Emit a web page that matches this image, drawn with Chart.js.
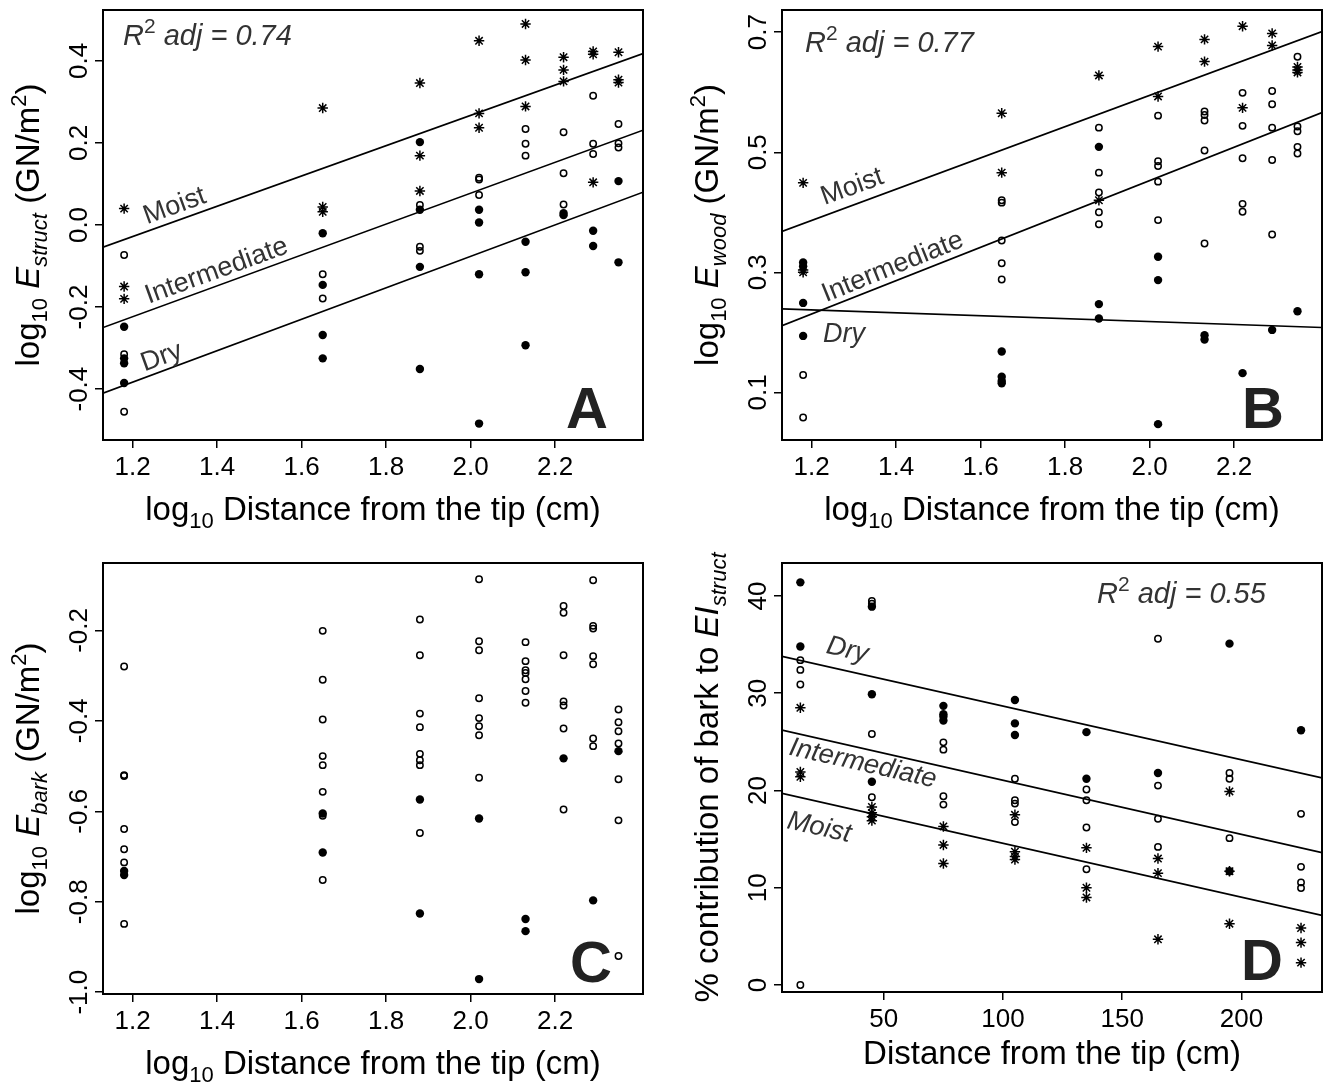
<!DOCTYPE html>
<html>
<head>
<meta charset="utf-8">
<script src="https://cdn.jsdelivr.net/npm/chart.js@4.4.1/dist/chart.umd.min.js"></script>
<style>
  html, body { margin: 0; padding: 0; background: #fff; }
  #page { position: relative; width: 1331px; height: 1088px; overflow: hidden; }
  #page canvas { position: absolute; }
</style>
</head>
<body>
<div id="page">
  <canvas id="panelA" width="665" height="544" style="left:0;top:0"></canvas>
  <canvas id="panelB" width="666" height="544" style="left:665px;top:0"></canvas>
  <canvas id="panelC" width="665" height="544" style="left:0;top:544px"></canvas>
  <canvas id="panelD" width="666" height="544" style="left:665px;top:544px"></canvas>
</div>
<script>
// sampling points along the branch
const logDistance = [1.18, 1.65, 1.88, 2.02, 2.13, 2.22, 2.29, 2.35];
const distanceCm = [15, 45, 75, 105, 135, 165, 195, 225];

// A: log10 E_struct, one list per sampling point
const structMoist = [[0.04, -0.15, -0.18], [0.285, 0.044, 0.032], [0.346, 0.169, 0.083], [0.449, 0.272, 0.237], [0.49, 0.402, 0.289], [0.409, 0.378, 0.35], [0.423, 0.416, 0.104], [0.421, 0.354, 0.347]];
const structInter = [[-0.073, -0.315, -0.455], [-0.12, -0.179], [0.049, -0.053, -0.063], [0.115, 0.111, 0.073], [0.234, 0.198, 0.169], [0.226, 0.126, 0.05], [0.315, 0.198, 0.173], [0.246, 0.199, 0.189]];
const structDry = [[-0.248, -0.325, -0.337, -0.385], [-0.02, -0.146, -0.268, -0.325], [0.202, 0.037, -0.102, -0.351], [0.037, 0.006, -0.12, -0.484], [-0.041, -0.115, -0.293], [0.029, 0.024], [-0.014, -0.051], [0.107, -0.091]];

// B: log10 E_wood
const woodMoist = [[0.449, 0.304, 0.300], [0.565, 0.466], [0.628, 0.42], [0.676, 0.593], [0.688, 0.651], [0.71, 0.574], [0.698, 0.678], [0.642, 0.637, 0.633]];
const woodInter = [[0.129, 0.058], [0.42, 0.416, 0.353, 0.315, 0.288], [0.541, 0.466, 0.433, 0.4, 0.38], [0.561, 0.485, 0.477, 0.451, 0.387], [0.568, 0.562, 0.553, 0.503, 0.348], [0.599, 0.544, 0.49, 0.414, 0.401], [0.602, 0.58, 0.541, 0.487, 0.363], [0.659, 0.543, 0.535, 0.509, 0.498]];
const woodDry = [[0.3165, 0.31, 0.249, 0.194], [0.168, 0.126, 0.119, 0.115], [0.509, 0.247, 0.223], [0.326, 0.287, 0.047], [0.195, 0.188], [0.132], [0.204], [0.235]];

// C: log10 E_bark
const barkInter = [[-0.28, -0.52, -0.522, -0.639, -0.684, -0.713, -0.849], [-0.201, -0.309, -0.397, -0.478, -0.498, -0.557, -0.61, -0.752], [-0.176, -0.255, -0.384, -0.414, -0.473, -0.487, -0.498, -0.648], [-0.087, -0.224, -0.244, -0.35, -0.394, -0.412, -0.432, -0.526], [-0.226, -0.268, -0.288, -0.294, -0.308, -0.334, -0.36], [-0.146, -0.161, -0.255, -0.357, -0.366, -0.417, -0.596], [-0.089, -0.19, -0.196, -0.257, -0.275, -0.439, -0.456], [-0.375, -0.403, -0.423, -0.45, -0.529, -0.62, -0.92]];
const barkDry = [[-0.732, -0.741], [-0.605, -0.691], [-0.574, -0.826], [-0.616, -0.971], [-0.838, -0.865], [-0.483], [-0.797], [-0.467]];

// D: % contribution of bark to EI_struct
const shareDry = [[41.4, 34.8], [38.9, 29.9, 20.9], [28.7, 27.85, 27.6, 27.2], [29.3, 26.9, 25.7], [26.0, 21.2], [21.8], [35.1, 11.7], [26.2]];
const shareInter = [[33.4, 32.4, 30.9, 0], [39.5, 39.2, 25.8, 19.3], [24.95, 24.2, 19.4, 18.55], [21.2, 19.0, 18.65, 16.75], [20.1, 19.0, 16.2, 11.9], [35.6, 20.5, 17.1, 14.2], [21.8, 21.2, 15.1], [17.6, 12.15, 10.55, 9.97]];
const shareMoist = [[28.5, 21.9, 21.4], [18.3, 17.7, 17.3, 16.9], [16.3, 14.4, 12.5], [17.5, 13.7, 13.2, 12.9], [14.1, 10.0, 9.0], [13.0, 11.5, 4.7], [19.9, 11.7, 6.3], [5.86, 4.36, 2.3]];

// fitted lines: y at the two ends of the x range
const logFitX = [1.13, 2.408];
const structFitMoist = [-0.054, 0.418];
const structFitInter = [-0.25, 0.231];
const structFitDry = [-0.41, 0.08];
const woodFitMoist = [0.368, 0.701];
const woodFitInter = [0.211, 0.566];
const woodFitDry = [0.239, 0.208];
const cmFitX = [7.3, 233.8];
const shareFitDry = [33.8, 21.3];
const shareFitInter = [26.2, 13.6];
const shareFitMoist = [19.7, 7.15];

// tick values
const logTicks = [1.2, 1.4, 1.6, 1.8, 2.0, 2.2];
const cmTicks = [50, 100, 150, 200];
const structTicks = [-0.4, -0.2, 0.0, 0.2, 0.4];
const woodTicks = [0.1, 0.3, 0.5, 0.7];
const barkTicks = [-1.0, -0.8, -0.6, -0.4, -0.2];
const shareTicks = [0, 10, 20, 30, 40];

const FONT = '"Liberation Sans", Arial, Helvetica, sans-serif';
const TICK_PX = 26, TITLE_PX = 33, SUB_PX = 22, LABEL_PX = 27, R2_PX = 29, LETTER_PX = 58;
const INK = '#000', NOTE_INK = '#333';

const toPoints = (xs, cols) => cols.flatMap((ys, i) => ys.map(y => ({ x: xs[i], y })));
const toLine = (xs, ys) => xs.map((x, i) => ({ x, y: ys[i] }));

const moistStyle = { pointStyle: 'star', pointRadius: 5.2, borderColor: INK, borderWidth: 1.5, backgroundColor: 'rgba(0,0,0,0)' };
const interStyle = { pointStyle: 'circle', pointRadius: 3.2, borderColor: INK, borderWidth: 1.5, backgroundColor: 'rgba(0,0,0,0)' };
const dryStyle = { pointStyle: 'circle', pointRadius: 4.2, borderColor: INK, borderWidth: 0, backgroundColor: INK };
const lineStyle = { showLine: true, pointRadius: 0, borderColor: INK, borderWidth: 1.7, backgroundColor: INK };

const t = (text, extra) => Object.assign({ t: text }, extra || {});
const sub = (text, italic) => t(text, { size: SUB_PX, dy: 8, italic: !!italic });
const sup = text => t(text, { size: SUB_PX, dy: -13 });
const logTitle = [t('log'), sub('10'), t(' Distance from the tip (cm)')];

// per-panel text and layout, looked up by canvas id
const decor = {
  panelA: {
    yDigits: 1, xTitle: logTitle, xTitleDy: 80,
    yTitle: [t('log'), sub('10'), t(' '), t('E', { italic: true }), sub('struct', true), t(' (GN/m'), sup('2'), t(')')],
    r2: { text: 'R', value: ' adj = 0.74', dx: 20, dy: 35, fromRight: false },
    letter: 'A', letterDx: 56,
    notes: [
      { text: 'Moist', x: 1.298, y: 0.051, angle: -20 },
      { text: 'Intermediate', x: 1.397, y: -0.107, angle: -20 },
      { text: 'Dry', x: 1.267, y: -0.317, angle: -20 }
    ]
  },
  panelB: {
    yDigits: 1, xTitle: logTitle, xTitleDy: 80,
    yTitle: [t('log'), sub('10'), t(' '), t('E', { italic: true }), sub('wood', true), t(' (GN/m'), sup('2'), t(')')],
    r2: { text: 'R', value: ' adj = 0.77', dx: 23, dy: 42, fromRight: false },
    letter: 'B', letterDx: 59,
    notes: [
      { text: 'Moist', x: 1.2945, y: 0.4456, angle: -20 },
      { text: 'Intermediate', x: 1.39, y: 0.312, angle: -22 },
      { text: 'Dry', x: 1.2767, y: 0.2, angle: 0, italic: true }
    ]
  },
  panelC: {
    yDigits: 1, xTitle: logTitle, xTitleDy: 80,
    yTitle: [t('log'), sub('10'), t(' '), t('E', { italic: true }), sub('bark', true), t(' (GN/m'), sup('2'), t(')')],
    letter: 'C', letterDx: 52,
    notes: []
  },
  panelD: {
    yDigits: 0, xTitle: [t('Distance from the tip (cm)')], xTitleDy: 72,
    yTitle: [t('% contribution of bark to '), t('EI', { italic: true }), sub('struct', true)],
    r2: { text: 'R', value: ' adj = 0.55', dx: 225, dy: 40, fromRight: true },
    letter: 'D', letterDx: 60,
    notes: [
      { text: 'Dry', x: 34.9, y: 34.65, angle: 12.7, italic: true },
      { text: 'Intermediate', x: 41.4, y: 22.98, angle: 12.7, italic: true },
      { text: 'Moist', x: 23.1, y: 16.4, angle: 12.7, italic: true }
    ]
  }
};

function fontOf(seg, base) {
  return (seg.italic ? 'italic ' : '') + (seg.bold ? 'bold ' : '') + (seg.size || base) + 'px ' + FONT;
}

// draws a run of text pieces (sub/superscripts, italics) on one baseline
function drawRich(ctx, segs, x, y, angle, align, base, color) {
  ctx.save();
  ctx.translate(x, y);
  ctx.rotate(angle);
  let total = 0;
  const widths = segs.map(s => { ctx.font = fontOf(s, base); const w = ctx.measureText(s.t).width; total += w; return w; });
  let cx = align === 'center' ? -total / 2 : 0;
  ctx.textAlign = 'left';
  ctx.textBaseline = 'alphabetic';
  ctx.fillStyle = color;
  segs.forEach((s, i) => {
    ctx.font = fontOf(s, base);
    ctx.fillText(s.t, cx, s.dy || 0);
    cx += widths[i];
  });
  ctx.restore();
}

const panelDecor = {
  id: 'panelDecor',
  afterDraw(chart) {
    const d = decor[chart.canvas.id];
    const { ctx, chartArea: a, scales } = chart;
    ctx.save();
    ctx.strokeStyle = INK;
    ctx.lineWidth = 2;
    ctx.strokeRect(a.left, a.top, a.right - a.left, a.bottom - a.top);

    // y tick labels, parallel to the axis
    ctx.font = TICK_PX + 'px ' + FONT;
    ctx.fillStyle = INK;
    ctx.textAlign = 'center';
    ctx.textBaseline = 'alphabetic';
    scales.y.ticks.forEach(tk => {
      const py = scales.y.getPixelForValue(tk.value);
      ctx.save();
      ctx.translate(a.left - 16, py);
      ctx.rotate(-Math.PI / 2);
      ctx.fillText(tk.value.toFixed(d.yDigits), 0, 0);
      ctx.restore();
    });

    const midX = (a.left + a.right) / 2, midY = (a.top + a.bottom) / 2;
    drawRich(ctx, d.xTitle, midX, a.bottom + d.xTitleDy, 0, 'center', TITLE_PX, INK);
    drawRich(ctx, d.yTitle, a.left - 64, midY, -Math.PI / 2, 'center', TITLE_PX, INK);

    if (d.r2) {
      const rx = d.r2.fromRight ? a.right - d.r2.dx : a.left + d.r2.dx;
      drawRich(ctx, [t(d.r2.text, { italic: true }), t('2', { size: 21, dy: -12 }), t(d.r2.value, { italic: true })],
        rx, a.top + d.r2.dy, 0, 'left', R2_PX, NOTE_INK);
    }

    // group labels sit along their fitted lines, centred on the given point
    d.notes.forEach(n => {
      const px = scales.x.getPixelForValue(n.x), py = scales.y.getPixelForValue(n.y);
      const ang = n.angle * Math.PI / 180;
      const lift = LABEL_PX * 0.36;
      drawRich(ctx, [t(n.text, { italic: !!n.italic })], px - Math.sin(ang) * lift, py + Math.cos(ang) * lift, ang, 'center', LABEL_PX, NOTE_INK);
    });

    ctx.font = 'bold ' + LETTER_PX + 'px ' + FONT;
    ctx.fillStyle = '#222';
    ctx.textAlign = 'center';
    ctx.textBaseline = 'alphabetic';
    ctx.fillText(d.letter, a.right - d.letterDx, a.bottom - 12);
    ctx.restore();
  }
};

function makePanel(id, cfg) {
  const datasets = cfg.series.map(s => Object.assign({ data: s.data }, s.style));
  return new Chart(document.getElementById(id), {
    type: 'scatter',
    data: { datasets },
    options: {
      responsive: false,
      animation: false,
      events: [],
      layout: { padding: { top: cfg.padTop, right: cfg.padRight, left: 0, bottom: 0 } },
      plugins: { legend: { display: false }, tooltip: { enabled: false } },
      scales: {
        x: {
          type: 'linear', min: cfg.xMin, max: cfg.xMax,
          afterBuildTicks: s => { s.ticks = cfg.xTicks.map(v => ({ value: v })); },
          afterFit: s => { s.height = cfg.axisBottom; },
          ticks: {
            color: INK, padding: 4, font: { family: FONT, size: TICK_PX },
            callback: v => v.toFixed(cfg.xDigits), maxRotation: 0, minRotation: 0
          },
          grid: { drawOnChartArea: false, drawTicks: true, tickLength: 8, color: INK, lineWidth: 1.5 },
          border: { display: false }
        },
        y: {
          type: 'linear', min: cfg.yMin, max: cfg.yMax,
          afterBuildTicks: s => { s.ticks = cfg.yTicks.map(v => ({ value: v })); },
          afterFit: s => { s.width = cfg.axisLeft; },
          ticks: { display: false },
          grid: { drawOnChartArea: false, drawTicks: true, tickLength: 8, color: INK, lineWidth: 1.5 },
          border: { display: false }
        }
      }
    },
    plugins: [panelDecor]
  });
}

makePanel('panelA', {
  padTop: 10, padRight: 22, axisLeft: 103, axisBottom: 104,
  xMin: 1.13, xMax: 2.408, yMin: -0.524, yMax: 0.524, xTicks: logTicks, yTicks: structTicks, xDigits: 1,
  series: [
    { data: toLine(logFitX, structFitMoist), style: lineStyle },
    { data: toLine(logFitX, structFitInter), style: lineStyle },
    { data: toLine(logFitX, structFitDry), style: lineStyle },
    { data: toPoints(logDistance, structInter), style: interStyle },
    { data: toPoints(logDistance, structDry), style: dryStyle },
    { data: toPoints(logDistance, structMoist), style: moistStyle }
  ]
});

makePanel('panelB', {
  padTop: 10, padRight: 9, axisLeft: 117, axisBottom: 104,
  xMin: 1.13, xMax: 2.408, yMin: 0.0206, yMax: 0.737, xTicks: logTicks, yTicks: woodTicks, xDigits: 1,
  series: [
    { data: toLine(logFitX, woodFitMoist), style: lineStyle },
    { data: toLine(logFitX, woodFitInter), style: lineStyle },
    { data: toLine(logFitX, woodFitDry), style: lineStyle },
    { data: toPoints(logDistance, woodInter), style: interStyle },
    { data: toPoints(logDistance, woodDry), style: dryStyle },
    { data: toPoints(logDistance, woodMoist), style: moistStyle }
  ]
});

makePanel('panelC', {
  padTop: 19, padRight: 22, axisLeft: 103, axisBottom: 94,
  xMin: 1.13, xMax: 2.408, yMin: -1.004, yMax: -0.051, xTicks: logTicks, yTicks: barkTicks, xDigits: 1,
  series: [
    { data: toPoints(logDistance, barkInter), style: interStyle },
    { data: toPoints(logDistance, barkDry), style: dryStyle }
  ]
});

makePanel('panelD', {
  padTop: 19, padRight: 9, axisLeft: 117, axisBottom: 96,
  xMin: 7.3, xMax: 233.8, yMin: -0.72, yMax: 43.39, xTicks: cmTicks, yTicks: shareTicks, xDigits: 0,
  series: [
    { data: toLine(cmFitX, shareFitDry), style: lineStyle },
    { data: toLine(cmFitX, shareFitInter), style: lineStyle },
    { data: toLine(cmFitX, shareFitMoist), style: lineStyle },
    { data: toPoints(distanceCm, shareInter), style: interStyle },
    { data: toPoints(distanceCm, shareDry), style: dryStyle },
    { data: toPoints(distanceCm, shareMoist), style: moistStyle }
  ]
});
</script>
</body>
</html>
